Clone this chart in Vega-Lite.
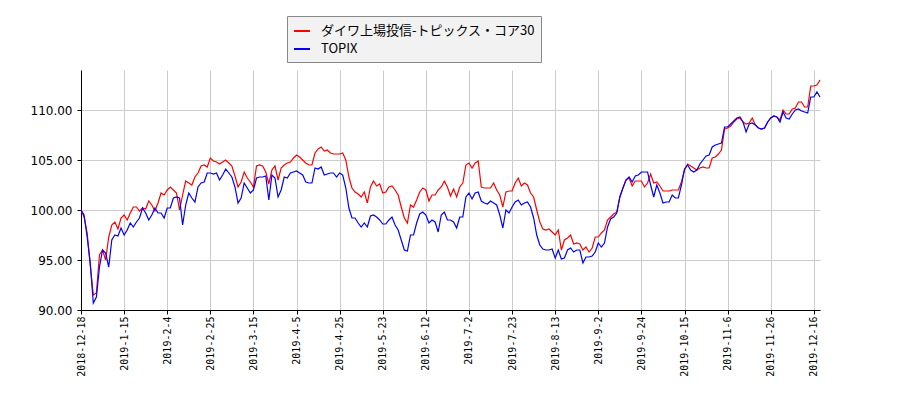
{
"$schema": "https://vega.github.io/schema/vega-lite/v6.json",
"width": 739, "height": 240,
"autosize": {"type": "none"},
"padding": {"left": 81, "top": 70, "right": 80, "bottom": 90},
"background": "white",
"config": {"view": {"stroke": null}},
"data": {"values": [
{"i":0,"r":100.0,"b":100.0},{"i":1,"r":99.3,"b":99.5},{"i":2,"r":97.7,"b":97.3},{"i":3,"r":94.5,"b":94.7},{"i":4,"r":91.5,"b":90.7},
{"i":5,"r":91.7,"b":91.3},{"i":6,"r":95.5,"b":94.3},{"i":7,"r":96.0,"b":96.0},{"i":8,"r":95.0,"b":95.7},{"i":9,"r":97.3,"b":94.3},
{"i":10,"r":98.5,"b":97.0},{"i":11,"r":98.8,"b":97.5},{"i":12,"r":98.1,"b":97.4},{"i":13,"r":99.2,"b":98.2},{"i":14,"r":99.5,"b":97.5},
{"i":15,"r":99.0,"b":98.0},{"i":16,"r":99.7,"b":98.7},{"i":17,"r":100.3,"b":98.3},{"i":18,"r":100.3,"b":98.8},{"i":19,"r":99.9,"b":99.2},
{"i":20,"r":100.2,"b":100.2},{"i":21,"r":100.1,"b":99.7},{"i":22,"r":100.9,"b":99.0},{"i":23,"r":100.5,"b":99.5},{"i":24,"r":99.9,"b":100.2},
{"i":25,"r":100.7,"b":99.7},{"i":26,"r":101.7,"b":99.7},{"i":27,"r":101.5,"b":99.2},{"i":28,"r":102.0,"b":100.2},{"i":29,"r":102.3,"b":100.2},
{"i":30,"r":102.0,"b":101.2},{"i":31,"r":101.7,"b":101.3},{"i":32,"r":100.0,"b":101.2},{"i":33,"r":101.5,"b":98.5},{"i":34,"r":102.9,"b":100.5},
{"i":35,"r":102.7,"b":101.7},{"i":36,"r":102.5,"b":101.2},{"i":37,"r":103.3,"b":100.8},{"i":38,"r":103.7,"b":102.3},{"i":39,"r":104.4,"b":102.7},
{"i":40,"r":104.5,"b":102.8},{"i":41,"r":104.3,"b":103.7},{"i":42,"r":105.2,"b":103.7},{"i":43,"r":104.9,"b":103.6},{"i":44,"r":104.8,"b":103.7},
{"i":45,"r":104.6,"b":103.0},{"i":46,"r":104.8,"b":103.5},{"i":47,"r":105.0,"b":104.1},{"i":48,"r":104.7,"b":103.7},{"i":49,"r":104.4,"b":103.3},
{"i":50,"r":103.4,"b":102.3},{"i":51,"r":102.3,"b":100.7},{"i":52,"r":102.8,"b":101.2},{"i":53,"r":103.8,"b":102.7},{"i":54,"r":103.2,"b":102.2},
{"i":55,"r":102.8,"b":101.7},{"i":56,"r":102.3,"b":102.0},{"i":57,"r":104.4,"b":103.2},{"i":58,"r":104.5,"b":103.3},{"i":59,"r":104.4,"b":103.3},
{"i":60,"r":103.8,"b":103.4},{"i":61,"r":102.6,"b":101.0},{"i":62,"r":104.0,"b":103.5},{"i":63,"r":104.4,"b":103.2},{"i":64,"r":103.0,"b":101.3},
{"i":65,"r":104.2,"b":102.0},{"i":66,"r":104.5,"b":103.3},{"i":67,"r":104.7,"b":103.2},{"i":68,"r":104.8,"b":103.7},{"i":69,"r":105.2,"b":103.8},
{"i":70,"r":105.5,"b":103.9},{"i":71,"r":105.3,"b":103.7},{"i":72,"r":105.0,"b":103.5},{"i":73,"r":104.7,"b":102.8},{"i":74,"r":104.5,"b":102.7},
{"i":75,"r":104.5,"b":102.7},{"i":76,"r":105.7,"b":104.2},{"i":77,"r":106.1,"b":104.1},{"i":78,"r":106.3,"b":104.3},{"i":79,"r":105.9,"b":103.5},
{"i":80,"r":106.0,"b":103.6},{"i":81,"r":105.7,"b":103.7},{"i":82,"r":105.6,"b":103.7},{"i":83,"r":105.6,"b":103.3},{"i":84,"r":105.6,"b":103.7},
{"i":85,"r":105.7,"b":103.5},{"i":86,"r":105.0,"b":102.2},{"i":87,"r":103.3,"b":100.2},{"i":88,"r":102.2,"b":99.2},{"i":89,"r":101.8,"b":99.2},
{"i":90,"r":101.6,"b":98.7},{"i":91,"r":101.3,"b":98.3},{"i":92,"r":101.8,"b":98.7},{"i":93,"r":100.7,"b":98.3},{"i":94,"r":102.3,"b":99.4},
{"i":95,"r":102.9,"b":99.5},{"i":96,"r":102.4,"b":99.3},{"i":97,"r":102.6,"b":99.0},{"i":98,"r":101.7,"b":98.6},{"i":99,"r":101.8,"b":98.6},
{"i":100,"r":102.3,"b":99.0},{"i":101,"r":102.4,"b":99.3},{"i":102,"r":102.0,"b":98.5},{"i":103,"r":101.5,"b":98.0},{"i":104,"r":100.3,"b":97.0},
{"i":105,"r":99.2,"b":96.0},{"i":106,"r":98.7,"b":95.9},{"i":107,"r":100.5,"b":97.5},{"i":108,"r":100.3,"b":97.5},{"i":109,"r":101.0,"b":98.7},
{"i":110,"r":101.8,"b":99.6},{"i":111,"r":102.2,"b":99.8},{"i":112,"r":102.0,"b":99.5},{"i":113,"r":100.9,"b":98.7},{"i":114,"r":101.5,"b":99.0},
{"i":115,"r":101.5,"b":98.8},{"i":116,"r":102.0,"b":97.8},{"i":117,"r":102.3,"b":99.5},{"i":118,"r":102.9,"b":99.8},{"i":119,"r":102.3,"b":99.0},
{"i":120,"r":101.4,"b":99.0},{"i":121,"r":102.1,"b":98.8},{"i":122,"r":101.3,"b":98.2},{"i":123,"r":102.3,"b":99.3},{"i":124,"r":102.7,"b":99.3},
{"i":125,"r":104.5,"b":101.3},{"i":126,"r":104.7,"b":101.7},{"i":127,"r":104.2,"b":101.1},{"i":128,"r":104.7,"b":101.7},{"i":129,"r":104.9,"b":101.8},
{"i":130,"r":102.3,"b":100.9},{"i":131,"r":102.2,"b":100.7},{"i":132,"r":102.2,"b":100.6},{"i":133,"r":102.2,"b":100.9},{"i":134,"r":102.7,"b":100.7},
{"i":135,"r":102.0,"b":100.5},{"i":136,"r":101.5,"b":99.5},{"i":137,"r":100.3,"b":98.2},{"i":138,"r":101.8,"b":100.0},{"i":139,"r":101.9,"b":99.7},
{"i":140,"r":101.9,"b":100.3},{"i":141,"r":102.7,"b":100.8},{"i":142,"r":103.2,"b":101.0},{"i":143,"r":102.4,"b":100.5},{"i":144,"r":102.7,"b":100.7},
{"i":145,"r":102.5,"b":100.8},{"i":146,"r":101.7,"b":100.3},{"i":147,"r":101.3,"b":99.2},{"i":148,"r":100.0,"b":97.5},{"i":149,"r":98.8,"b":96.5},
{"i":150,"r":98.1,"b":96.1},{"i":151,"r":98.0,"b":96.0},{"i":152,"r":98.1,"b":96.0},{"i":153,"r":97.8,"b":96.1},{"i":154,"r":97.5,"b":95.2},
{"i":155,"r":98.0,"b":96.0},{"i":156,"r":96.0,"b":95.1},{"i":157,"r":97.0,"b":95.2},{"i":158,"r":97.2,"b":96.0},{"i":159,"r":97.5,"b":96.2},
{"i":160,"r":96.6,"b":95.8},{"i":161,"r":96.7,"b":96.0},{"i":162,"r":96.6,"b":96.0},{"i":163,"r":96.0,"b":94.7},{"i":164,"r":96.3,"b":95.3},
{"i":165,"r":95.8,"b":95.3},{"i":166,"r":96.2,"b":95.4},{"i":167,"r":97.3,"b":95.8},{"i":168,"r":97.3,"b":96.7},{"i":169,"r":97.7,"b":96.3},
{"i":170,"r":98.0,"b":96.7},{"i":171,"r":99.0,"b":98.3},{"i":172,"r":99.3,"b":99.1},{"i":173,"r":99.6,"b":99.3},{"i":174,"r":99.8,"b":99.7},
{"i":175,"r":101.3,"b":101.3},{"i":176,"r":102.2,"b":102.2},{"i":177,"r":103.0,"b":103.0},{"i":178,"r":103.2,"b":103.3},{"i":179,"r":102.4,"b":102.8},
{"i":180,"r":102.9,"b":103.4},{"i":181,"r":102.9,"b":103.5},{"i":182,"r":102.9,"b":103.8},{"i":183,"r":102.3,"b":103.8},{"i":184,"r":102.7,"b":103.8},
{"i":185,"r":103.6,"b":102.5},{"i":186,"r":102.7,"b":101.3},{"i":187,"r":102.8,"b":102.5},{"i":188,"r":102.4,"b":101.7},{"i":189,"r":101.9,"b":100.7},
{"i":190,"r":101.9,"b":100.8},{"i":191,"r":101.9,"b":100.8},{"i":192,"r":102.0,"b":101.5},{"i":193,"r":102.0,"b":101.2},{"i":194,"r":102.0,"b":101.2},
{"i":195,"r":102.8,"b":102.5},{"i":196,"r":104.0,"b":104.1},{"i":197,"r":104.6,"b":104.5},{"i":198,"r":104.4,"b":104.0},{"i":199,"r":104.2,"b":103.8},
{"i":200,"r":104.0,"b":104.0},{"i":201,"r":104.2,"b":104.6},{"i":202,"r":104.3,"b":105.0},{"i":203,"r":104.2,"b":105.4},{"i":204,"r":104.2,"b":105.5},
{"i":205,"r":105.2,"b":106.3},{"i":206,"r":105.3,"b":106.5},{"i":207,"r":105.6,"b":106.6},{"i":208,"r":106.0,"b":106.7},{"i":209,"r":108.1,"b":108.3},
{"i":210,"r":108.2,"b":108.3},{"i":211,"r":108.4,"b":108.6},{"i":212,"r":108.8,"b":108.9},{"i":213,"r":109.1,"b":109.2},{"i":214,"r":109.2,"b":109.3},
{"i":215,"r":108.8,"b":108.8},{"i":216,"r":108.6,"b":107.8},{"i":217,"r":108.7,"b":108.6},{"i":218,"r":109.2,"b":108.7},{"i":219,"r":108.5,"b":108.5},
{"i":220,"r":108.2,"b":108.2},{"i":221,"r":108.1,"b":108.1},{"i":222,"r":108.2,"b":108.2},{"i":223,"r":108.8,"b":108.8},{"i":224,"r":109.2,"b":109.2},
{"i":225,"r":109.4,"b":109.4},{"i":226,"r":109.3,"b":109.3},{"i":227,"r":109.0,"b":108.8},{"i":228,"r":110.0,"b":109.8},{"i":229,"r":109.6,"b":109.2},
{"i":230,"r":109.6,"b":109.1},{"i":231,"r":110.1,"b":109.6},{"i":232,"r":110.2,"b":110.0},{"i":233,"r":110.8,"b":110.1},{"i":234,"r":110.8,"b":109.9},
{"i":235,"r":110.3,"b":109.8},{"i":236,"r":110.3,"b":109.7},{"i":237,"r":112.4,"b":111.3},{"i":238,"r":112.4,"b":111.3},{"i":239,"r":112.5,"b":111.8},
{"i":240,"r":113.0,"b":111.3}
]},
"transform": [{"fold": ["r", "b"], "as": ["s", "v"]}],
"mark": {"type": "line", "strokeWidth": 1.2},
"encoding": {
  "x": {"field": "i", "type": "quantitative",
    "scale": {"domain": [0, 240], "nice": false, "zero": false},
    "axis": {"title": null,
      "values": [0,14,28,42,56,70,84,98,112,126,140,154,168,182,196,210,224,238],
      "labelExpr": "['2018-12-18','2019-1-15','2019-2-4','2019-2-25','2019-3-15','2019-4-5','2019-4-25','2019-5-23','2019-6-12','2019-7-2','2019-7-23','2019-8-13','2019-9-2','2019-9-24','2019-10-15','2019-11-6','2019-11-26','2019-12-16'][round(datum.value/14)]",
      "labelAngle": 270, "labelAlign": "right", "labelBaseline": "middle",
      "labelFont": "DejaVu Sans Mono", "labelFontSize": 10, "labelColor": "#000000",
      "labelPadding": 2, "labelOverlap": false, "labelFlush": false, "labelLimit": 200,
      "tickSize": 4, "tickColor": "#000000", "domainColor": "#000000",
      "grid": true, "gridColor": "#cccccc", "gridWidth": 1}},
  "y": {"field": "v", "type": "quantitative",
    "scale": {"domain": [90, 114], "nice": false, "zero": false},
    "axis": {"title": null, "values": [90, 95, 100, 105, 110], "format": ".2f",
      "labelFont": "DejaVu Sans", "labelFontSize": 12, "labelColor": "#000000",
      "labelPadding": 5, "labelOverlap": false, "labelFlush": false,
      "tickSize": 4, "tickColor": "#000000", "domainColor": "#000000",
      "grid": true, "gridColor": "#cccccc", "gridWidth": 1}},
  "color": {"field": "s", "type": "nominal",
    "scale": {"domain": ["r", "b"], "range": ["#ff0000", "#0000ff"]},
    "legend": {"title": null, "orient": "none", "legendX": 206, "legendY": -54,
      "labelExpr": "datum.value == 'r' ? 'ダイワ上場投信-トピックス・コア30' : 'TOPIX'",
      "symbolType": "stroke", "symbolSize": 256, "symbolStrokeWidth": 2,
      "labelFont": "Noto Sans CJK JP", "labelFontSize": 13, "labelColor": "#000000", "labelLimit": 400,
      "labelOffset": 10, "padding": 6, "rowPadding": 2,
      "fillColor": "#f2f2f2", "strokeColor": "#888888"}}
}
}
